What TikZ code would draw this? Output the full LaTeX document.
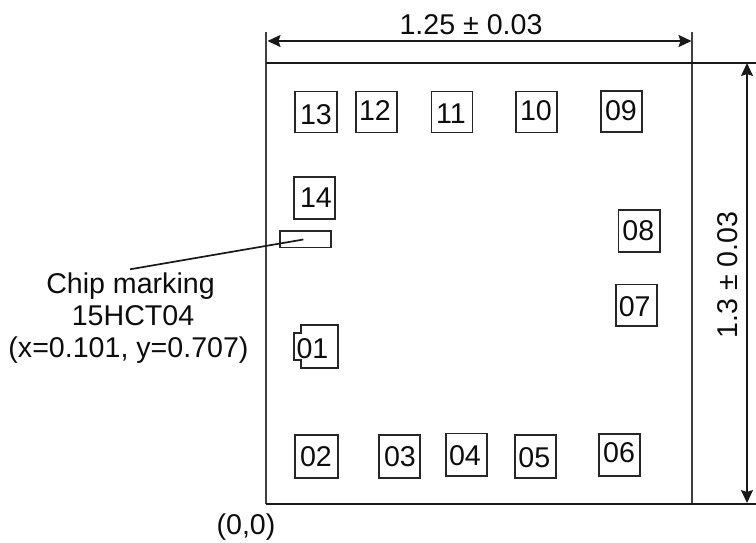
\documentclass[tikz,border=0pt]{standalone}
\usepackage{fontspec}
\setmainfont{Liberation Sans}
\usetikzlibrary{arrows.meta}
\tikzset{
  x=1pt,y=-1pt,
  hline/.style={draw=black!90,line width=1.9pt},
  vline/.style={draw=black!75,line width=1.7pt},
  dim/.style={draw=black!90,line width=1.7pt,{Stealth[length=13pt,width=12pt,inset=2pt]}-{Stealth[length=13pt,width=12pt,inset=2pt]}},
  pad/.style={draw=black!85,line width=1.9pt,inner sep=0pt},
  txt/.style={inner sep=0pt,font=\fontsize{28.6}{32}\selectfont,text=black!95},
}
\newcommand{\padbox}[8]{%
  \node[pad,minimum width=#4pt,minimum height=#5pt] (#1) at (#2,#3) {};
  \node[txt] (#1t) at (#6,#7) {#8};}
\begin{document}
\begin{tikzpicture}
\useasboundingbox (0,0) rectangle (756,542);
\coordinate (tl) at (266.3,62.7);
\coordinate (tr) at (692.3,62.7);
\coordinate (bl) at (266.3,504.3);
\coordinate (br) at (692.3,504.3);
\coordinate (tle) at (266.3,32);
\coordinate (tre) at (692.3,32);
\coordinate (rt) at (756,62.7);
\coordinate (rb) at (756,504.3);
\draw[vline] (tle) -- (bl);
\draw[vline] (tre) -- (br);
\draw[hline] (tl) -- (rt);
\draw[hline] (bl) -- (rb);
\coordinate (al) at (267.5,41);
\coordinate (ar) at (691.5,41);
\draw[dim] (al) -- (ar);
\coordinate (at) at (747,63);
\coordinate (ab) at (747,503);
\draw[dim] (at) -- (ab);
\node[txt] (w) at (471,25) {1.25 ± 0.03};
\node[txt,rotate=90] (h) at (728,275) {1.3 ± 0.03};
\padbox{p13}{316.3}{112}{42}{41}{316}{115}{13}
\padbox{p12}{376.7}{112}{41}{41}{375}{111}{12}
\padbox{p11}{452}{112}{41}{41}{451}{114}{11}
\padbox{p10}{536.4}{112}{41}{41}{536}{111}{10}
\padbox{p09}{621.6}{111.7}{41}{41}{621}{111}{09}
\padbox{p14}{314.8}{197.7}{41}{42}{316}{197.7}{14}
\padbox{p08}{639.2}{230.8}{41.5}{41.5}{638.3}{231}{08}
\padbox{p07}{636.2}{305.2}{41}{41.5}{634.7}{307}{07}
\padbox{p02}{316.3}{456.3}{42.5}{42.5}{316}{456.5}{02}
\padbox{p03}{399.8}{456.3}{41}{42.5}{400}{456.5}{03}
\padbox{p04}{466.2}{454.7}{41}{42.5}{465}{456}{04}
\padbox{p05}{535.2}{456.3}{41}{42.5}{534.3}{457.5}{05}
\padbox{p06}{619.8}{454.8}{41}{42.3}{619}{452.3}{06}
\node[pad,line width=1.6pt,minimum width=51pt,minimum height=16.7pt] (mark) at (305.7,239.3) {};
\coordinate (mk) at (303.3,239.5);
\coordinate (lead) at (130,269.3);
\draw[vline,draw=black!90] (mk) -- (lead);
\node[txt,align=center] (lab) at (128.5,318) {\hspace*{4pt}Chip marking\\\hspace*{9pt}15HCT04\\(x=0.101, y=0.707)};
\draw[draw=black!85,line width=1.8pt] (301,325) -- (337.7,325) -- (337.7,367.7) -- (301,367.7) -- (301,360) -- (294,360) -- (294,332.7) -- (301,332.7) -- cycle;
\node[txt] (p01) at (312.5,348.5) {01};
\node[txt] (orig) at (246,527) {(0,0)};
\end{tikzpicture}
\end{document}
